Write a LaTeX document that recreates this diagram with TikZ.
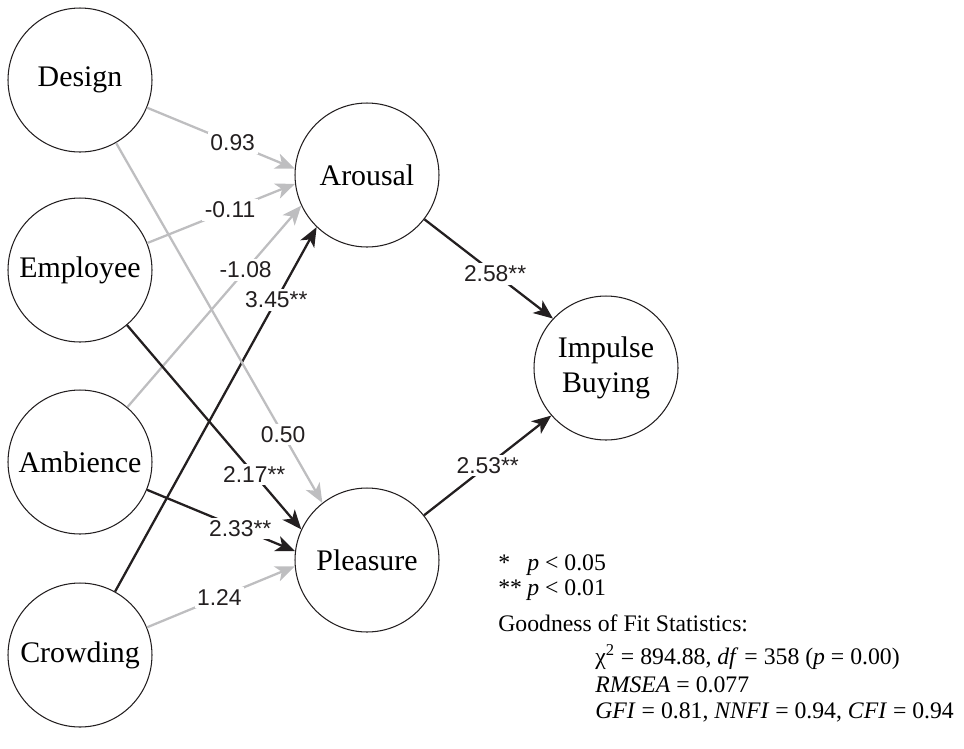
\documentclass[tikz,border=0pt]{standalone}
\usepackage{fontspec}
\setmainfont{Liberation Serif}
\setsansfont{Liberation Sans}
\usetikzlibrary{arrows.meta}
\definecolor{pathgray}{RGB}{190, 190, 192}
\definecolor{pathblack}{RGB}{35, 31, 32}

\begin{document}
\begin{tikzpicture}[x=0.02cm, y=-0.02cm,
    construct/.style={circle, draw=pathblack, line width=0.6pt, minimum size=2.88cm, inner sep=0pt, align=center, font=\fontsize{17}{20}\selectfont},
    sig/.style={line width=1.3pt, color=pathblack, -{Stealth[length=11pt, width=9pt, inset=3pt]}},
    nonsig/.style={sig, color=pathgray},
    coef/.style={fill=white, text=pathblack, inner sep=1.5pt, font=\sffamily\fontsize{13}{15}\selectfont},
    legend/.style={anchor=west, inner sep=0pt, font=\fontsize{13.5}{16}\selectfont}]
    \useasboundingbox (0,0) rectangle (964,748);

    % Store environment
    \node[construct] (design) at (80,80) {Design};
    \node[construct] (employee) at (80,270) {Employee};
    \node[construct] (ambience) at (80,462) {Ambience};
    \node[construct] (crowding) at (80,655) {Crowding};

    % Emotional states and outcome
    \node[construct] (arousal) at (367,175) {Arousal};
    \node[construct] (pleasure) at (367,560) {Pleasure};
    \node[construct] (impulse) at (606,368) {Impulse\\Buying};

    % Paths to Arousal
    \draw[nonsig] (design) -- (arousal.175) node[coef, pos=0.58] {0.93};
    \draw[nonsig] (employee) -- (arousal.187) node[coef, pos=0.56] {-0.11};
    \draw[nonsig] (ambience) -- (arousal.205) node[coef, pos=0.68] {-1.08};
    \draw[sig] (crowding) -- (arousal.226) node[coef, pos=0.8] {3.45**};

    % Paths to Pleasure
    \draw[nonsig] (design) -- (pleasure.128) node[coef, pos=0.81] {0.50};
    \draw[sig] (employee) -- (pleasure.155) node[coef, pos=0.73] {2.17**};
    \draw[sig] (ambience) -- (pleasure.173) node[coef, pos=0.63] {2.33**};
    \draw[nonsig] (crowding) -- (pleasure.185) node[coef, pos=0.49] {1.24};

    % Paths to Impulse Buying
    \draw[sig] (arousal) -- (impulse.137) node[coef, pos=0.55] {2.58**};
    \draw[sig] (pleasure) -- (impulse.221) node[coef, pos=0.5] {2.53**};

    % Legend
    \node[legend] (p05) at (498,565) {\makebox[0.58cm][l]{*}\textit{p} < 0.05};
    \node[legend] (p01) at (498,590) {\makebox[0.58cm][l]{**}\textit{p} < 0.01};
    \node[legend] (gof) at (498,623) {Goodness of Fit Statistics:};
    \node[legend] (chi) at (595,657) {χ\textsuperscript{2} = 894.88, \textit{df} = 358 (\textit{p} = 0.00)};
    \node[legend] (rmsea) at (595,685) {\textit{RMSEA} = 0.077};
    \node[legend] (fit) at (595,712) {\textit{GFI} = 0.81, \textit{NNFI} = 0.94, \textit{CFI} = 0.94};
\end{tikzpicture}
\end{document}
